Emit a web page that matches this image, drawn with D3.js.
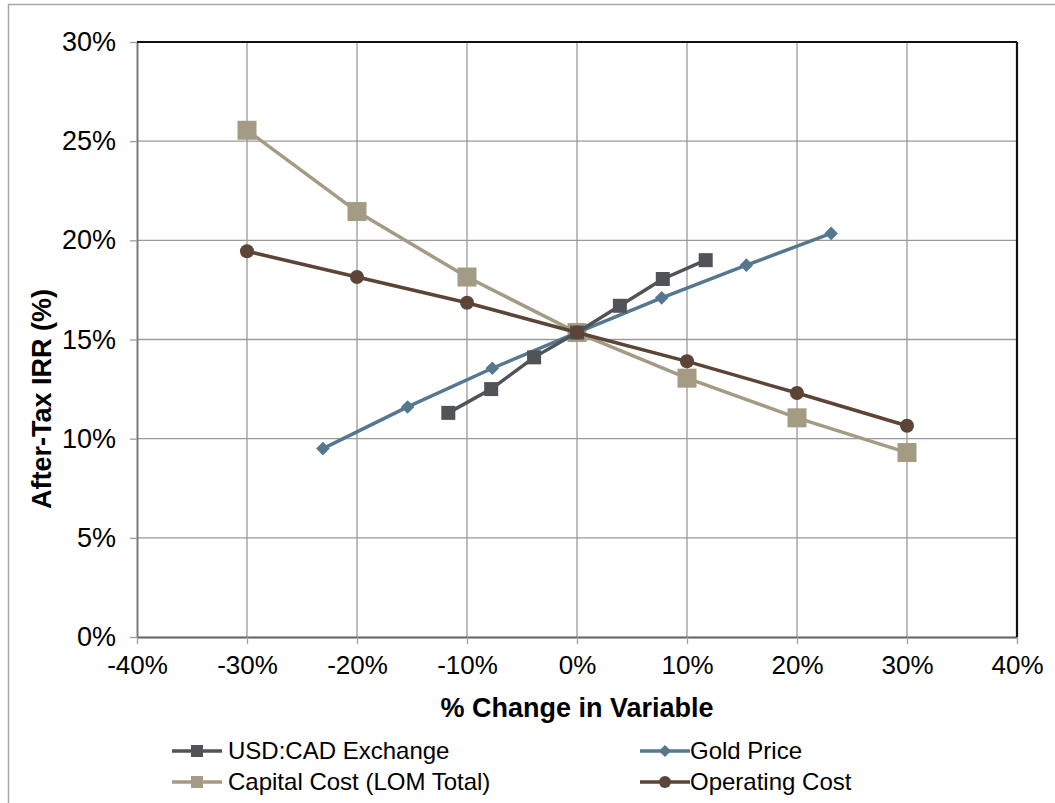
<!DOCTYPE html>
<html>
<head>
<meta charset="utf-8">
<script src="https://cdn.jsdelivr.net/npm/d3@7"></script>
<style>
  body { margin: 0; background: #fff; }
  svg text { font-family: "Liberation Sans", Arial, sans-serif; fill: #000; }
</style>
</head>
<body>
<div id="graph"></div>
<script>
// data
const xTicks = [-40, -30, -20, -10, 0, 10, 20, 30, 40];
const yTicks = [0, 5, 10, 15, 20, 25, 30];

const usdX = [-11.7, -7.8, -3.9, 0, 3.9, 7.8, 11.7];
const usdY = [11.3, 12.5, 14.1, 15.35, 16.7, 18.05, 19.0];

const goldX = [-23.1, -15.4, -7.7, 0, 7.7, 15.4, 23.1];
const goldY = [9.5, 11.6, 13.55, 15.35, 17.1, 18.75, 20.35];

const capX = [-30, -20, -10, 0, 10, 20, 30];
const capY = [25.55, 21.45, 18.15, 15.35, 13.05, 11.05, 9.3];

const opX = [-30, -20, -10, 0, 10, 20, 30];
const opY = [19.45, 18.15, 16.85, 15.35, 13.9, 12.3, 10.65];

const series = [
  { name: "USD:CAD Exchange", xs: usdX, ys: usdY, color: "#505357", shape: "square", size: 14 },
  { name: "Gold Price", xs: goldX, ys: goldY, color: "#56788f", shape: "diamond", size: 10 },
  { name: "Capital Cost (LOM Total)", xs: capX, ys: capY, color: "#a39b84", shape: "square", size: 19 },
  { name: "Operating Cost", xs: opX, ys: opY, color: "#5c4436", shape: "circle", size: 14 }
];
// draw order: capital cost behind, operating cost on top
const drawOrder = [2, 1, 0, 3];

const W = 1055, H = 803;
const margin = { left: 137, top: 42, right: 38, bottom: 166 };
const width = W - margin.left - margin.right;
const height = H - margin.top - margin.bottom;

const svgRoot = d3.select("#graph").append("svg").attr("width", W).attr("height", H);

// outer chart frame
svgRoot.append("rect")
  .attr("x", 8.5).attr("y", 4.5).attr("width", W + 10).attr("height", H + 10)
  .attr("fill", "none").attr("stroke", "#a6a6a6").attr("stroke-width", 1.5);

const svg = svgRoot.append("g").attr("transform", "translate(" + margin.left + "," + margin.top + ")");

const x = d3.scaleLinear().domain([-40, 40]).range([0, width]);
const y = d3.scaleLinear().domain([0, 30]).range([height, 0]);

// gridlines
svg.append("g").selectAll("line").data(xTicks.slice(1, -1)).enter().append("line")
  .attr("x1", d => x(d)).attr("x2", d => x(d)).attr("y1", 0).attr("y2", height)
  .attr("stroke", "#9a9a9a").attr("stroke-width", 1.3);
svg.append("g").selectAll("line").data(yTicks.slice(1, -1)).enter().append("line")
  .attr("x1", 0).attr("x2", width).attr("y1", d => y(d)).attr("y2", d => y(d))
  .attr("stroke", "#9a9a9a").attr("stroke-width", 1.3);

// axes
const yAxis = svg.append("g")
  .call(d3.axisLeft(y).tickValues(yTicks).tickFormat(d => d + "%").tickSize(7).tickSizeOuter(0).tickPadding(14));
yAxis.select(".domain").attr("stroke", "#7a7a7a").attr("stroke-width", 2);
yAxis.selectAll(".tick line").attr("stroke", "#a0a0a0").attr("stroke-width", 1.3);
yAxis.selectAll("text").attr("font-size", 27).attr("font-family", "Liberation Sans").attr("fill", "#000");

const xAxis = svg.append("g").attr("transform", "translate(0," + height + ")")
  .call(d3.axisBottom(x).tickValues(xTicks).tickFormat(d => d + "%").tickSize(7).tickSizeOuter(0).tickPadding(12));
xAxis.select(".domain").attr("stroke", "#606060").attr("stroke-width", 2);
xAxis.selectAll(".tick line").attr("stroke", "#a0a0a0").attr("stroke-width", 1.3);
xAxis.selectAll("text").attr("font-size", 26).attr("font-family", "Liberation Sans").attr("fill", "#000");

// top and right border in black
svg.append("line").attr("x1", 0).attr("x2", width).attr("y1", 0).attr("y2", 0)
  .attr("stroke", "#111").attr("stroke-width", 2.2);
svg.append("line").attr("x1", width).attr("x2", width).attr("y1", 0).attr("y2", height)
  .attr("stroke", "#111").attr("stroke-width", 2.2);

// axis titles
svg.append("text")
  .attr("x", x(0)).attr("y", height + 80)
  .attr("text-anchor", "middle").attr("font-size", 27).attr("font-weight", "bold")
  .text("% Change in Variable");
svg.append("text")
  .attr("transform", "translate(" + (-86) + "," + y(12) + ") rotate(-90)")
  .attr("text-anchor", "middle").attr("font-size", 27).attr("font-weight", "bold")
  .text("After-Tax IRR (%)");

function drawMarker(g, s, cx, cy) {
  if (s.shape === "square") {
    g.append("rect").attr("x", cx - s.size / 2).attr("y", cy - s.size / 2)
      .attr("width", s.size).attr("height", s.size).attr("fill", s.color);
  } else if (s.shape === "diamond") {
    const r = s.size * 0.68;
    g.append("path").attr("d", "M" + cx + "," + (cy - r) + "L" + (cx + r) + "," + cy + "L" + cx + "," + (cy + r) + "L" + (cx - r) + "," + cy + "Z")
      .attr("fill", s.color);
  } else {
    g.append("circle").attr("cx", cx).attr("cy", cy).attr("r", s.size / 2).attr("fill", s.color);
  }
}

const line = d3.line().x(d => x(d[0])).y(d => y(d[1]));

drawOrder.forEach(function (i) {
  const s = series[i];
  const pts = s.xs.map((v, k) => [v, s.ys[k]]);
  const g = svg.append("g");
  g.append("path").datum(pts).attr("d", line)
    .attr("fill", "none").attr("stroke", s.color).attr("stroke-width", 3.5);
  pts.forEach(p => drawMarker(g, s, x(p[0]), y(p[1])));
});

// legend
const legendPos = [
  { lx: 172, ly: 751 }, { lx: 640, ly: 751 },
  { lx: 172, ly: 782 }, { lx: 640, ly: 782 }
];
series.forEach(function (s, i) {
  const p = legendPos[i];
  const g = svgRoot.append("g");
  g.append("line").attr("x1", p.lx).attr("x2", p.lx + 50).attr("y1", p.ly).attr("y2", p.ly)
    .attr("stroke", s.color).attr("stroke-width", 3.5);
  drawMarker(g, Object.assign({}, s, { size: s.shape === "diamond" ? 9 : 12 }), p.lx + 25, p.ly);
  g.append("text").attr("x", p.lx + (i % 2 === 0 ? 56 : 50)).attr("y", p.ly).attr("dy", "0.35em")
    .attr("font-size", 24).text(s.name);
});
</script>
</body>
</html>
